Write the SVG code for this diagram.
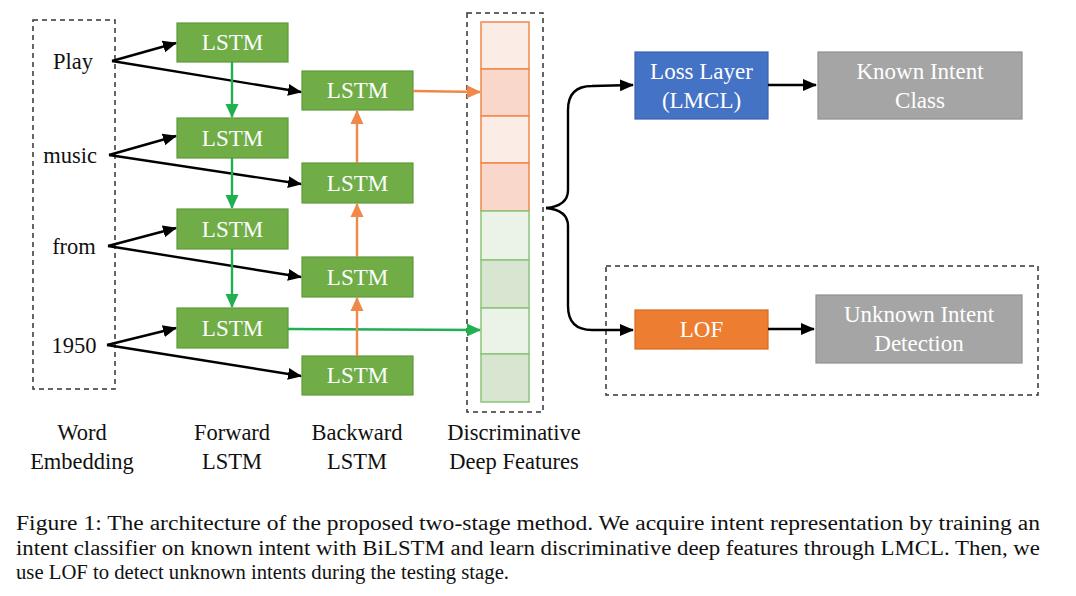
<svg xmlns="http://www.w3.org/2000/svg" width="1076" height="596" viewBox="0 0 1076 596">
<style>
text{font-family:"Liberation Serif","Times New Roman",serif;}
.lbl{font-size:22.5px;fill:#111;text-anchor:middle;}
.wt{font-size:23px;fill:#fff;text-anchor:middle;}
.lstm{fill:#70AD47;stroke:#5E9A3A;stroke-width:1.2;}
.dash{fill:none;stroke:#333;stroke-width:1.5;stroke-dasharray:5,4;}
.blk{fill:none;stroke:#000;stroke-width:2.4;}
.grn{fill:none;stroke:#21B050;stroke-width:2.4;}
.org{fill:none;stroke:#F0884A;stroke-width:2.4;}
.oc1{fill:#FCECE6;stroke:#F0884A;stroke-width:1.5;}
.oc2{fill:#F9D7CB;stroke:#F0884A;stroke-width:1.5;}
.gc1{fill:#EBF2E8;stroke:#8DC37A;stroke-width:1.5;}
.gc2{fill:#D7E5D1;stroke:#8DC37A;stroke-width:1.5;}
.cap{font-size:20.5px;fill:#111;}
</style>
<defs>
<marker id="ag" markerWidth="14" markerHeight="14" refX="13" refY="7" orient="auto" markerUnits="userSpaceOnUse" viewBox="0 0 14 14"><path d="M0,0.5 L14,7 L0,13.5 z" fill="#21B050"/></marker>
<marker id="ao" markerWidth="14" markerHeight="14" refX="13" refY="7" orient="auto" markerUnits="userSpaceOnUse" viewBox="0 0 14 14"><path d="M0,0.5 L14,7 L0,13.5 z" fill="#F0884A"/></marker>
<marker id="ab2" markerWidth="14" markerHeight="14" refX="13" refY="7" orient="auto" markerUnits="userSpaceOnUse" viewBox="0 0 14 14"><path d="M0,1 L14,7 L0,13 z" fill="#000"/></marker>
</defs>

<g id="word-embedding">
<rect class="dash" x="33" y="20" width="82" height="369"/>
<text class="lbl" x="73" y="69">Play</text>
<text class="lbl" x="70" y="163">music</text>
<text class="lbl" x="74" y="254">from</text>
<text class="lbl" x="74" y="353">1950</text>
</g>

<g id="forward-lstm">
<rect class="lstm" x="177" y="23" width="111" height="39"/><text class="wt" x="232.5" y="50">LSTM</text>
<rect class="lstm" x="177" y="118" width="111" height="40"/><text class="wt" x="232.5" y="146">LSTM</text>
<rect class="lstm" x="177" y="209" width="111" height="40"/><text class="wt" x="232.5" y="237">LSTM</text>
<rect class="lstm" x="177" y="308" width="111" height="40"/><text class="wt" x="232.5" y="336">LSTM</text>
</g>

<g id="backward-lstm">
<rect class="lstm" x="302" y="71" width="111" height="39"/><text class="wt" x="357.5" y="98">LSTM</text>
<rect class="lstm" x="302" y="163" width="111" height="40"/><text class="wt" x="357.5" y="191">LSTM</text>
<rect class="lstm" x="302" y="257" width="111" height="40"/><text class="wt" x="357.5" y="285">LSTM</text>
<rect class="lstm" x="302" y="356" width="111" height="39"/><text class="wt" x="357.5" y="383">LSTM</text>
</g>

<g id="features">
<rect class="dash" x="467" y="13" width="76" height="399"/>
<rect class="oc1" x="481" y="22" width="48" height="47"/>
<rect class="oc2" x="481" y="69" width="48" height="47"/>
<rect class="oc1" x="481" y="116" width="48" height="47"/>
<rect class="oc2" x="481" y="163" width="48" height="48"/>
<rect class="gc1" x="481" y="211" width="48" height="49"/>
<rect class="gc2" x="481" y="260" width="48" height="48"/>
<rect class="gc1" x="481" y="308" width="48" height="46"/>
<rect class="gc2" x="481" y="354" width="48" height="48"/>
</g>

<g id="loss-layer">
<rect x="635" y="52" width="133" height="67" fill="#4472C4" stroke="#3A63AE" stroke-width="1.2"/>
<text class="wt" x="701.5" y="79">Loss Layer</text>
<text class="wt" x="701.5" y="108">(LMCL)</text>
</g>
<g id="known-intent">
<rect x="818" y="52" width="204" height="67" fill="#A5A5A5" stroke="#8F8F8F" stroke-width="1.2"/>
<text class="wt" x="920" y="79">Known Intent</text>
<text class="wt" x="920" y="108">Class</text>
</g>
<g id="lof-group">
<rect class="dash" x="606" y="266" width="432" height="129"/>
</g>
<g id="lof">
<rect x="635" y="310" width="133" height="39" fill="#ED7D31" stroke="#D66B22" stroke-width="1.2"/>
<text class="wt" x="701.5" y="337">LOF</text>
</g>
<g id="unknown-intent">
<rect x="816" y="295" width="206" height="68" fill="#A5A5A5" stroke="#8F8F8F" stroke-width="1.2"/>
<text class="wt" x="919" y="322">Unknown Intent</text>
<text class="wt" x="919" y="351">Detection</text>
</g>

<g id="connectors">
<path class="blk" d="M112,61 L176,43" marker-end="url(#ab2)"/>
<path class="blk" d="M112,61 L301,92" marker-end="url(#ab2)"/>
<path class="blk" d="M109,155 L176,136" marker-end="url(#ab2)"/>
<path class="blk" d="M109,155 L301,184" marker-end="url(#ab2)"/>
<path class="blk" d="M108,246 L176,228" marker-end="url(#ab2)"/>
<path class="blk" d="M108,246 L301,277" marker-end="url(#ab2)"/>
<path class="blk" d="M107,345 L176,328" marker-end="url(#ab2)"/>
<path class="blk" d="M107,345 L301,376" marker-end="url(#ab2)"/>
<path class="grn" d="M232,62 L232,117" marker-end="url(#ag)"/>
<path class="grn" d="M232,158 L232,208" marker-end="url(#ag)"/>
<path class="grn" d="M232,249 L232,307" marker-end="url(#ag)"/>
<path class="grn" d="M288,329 L480,330" marker-end="url(#ag)"/>
<path class="org" d="M357,356 L357,298" marker-end="url(#ao)"/>
<path class="org" d="M357,257 L357,204" marker-end="url(#ao)"/>
<path class="org" d="M357,163 L357,111" marker-end="url(#ao)"/>
<path class="org" d="M413,91 L480,92" marker-end="url(#ao)"/>
<path class="blk" d="M546,208 Q568,206 568,190 L568,110 Q568,86 592,86 L633,85" marker-end="url(#ab2)"/>
<path class="blk" d="M546,208 Q568,210 568,226 L568,306 Q568,330 592,330 L633,330" marker-end="url(#ab2)"/>
<path class="blk" d="M768,85 L816,85" marker-end="url(#ab2)"/>
<path class="blk" d="M768,329 L814,329" marker-end="url(#ab2)"/>
</g>

<g id="column-labels">
<text class="lbl" x="82" y="440">Word</text>
<text class="lbl" x="82" y="469">Embedding</text>
<text class="lbl" x="232" y="440">Forward</text>
<text class="lbl" x="232" y="469">LSTM</text>
<text class="lbl" x="357" y="440">Backward</text>
<text class="lbl" x="357" y="469">LSTM</text>
<text class="lbl" x="514" y="440">Discriminative</text>
<text class="lbl" x="514" y="469">Deep Features</text>
</g>

<g id="caption">
<text class="cap" x="16" y="530" textLength="1024" lengthAdjust="spacingAndGlyphs">Figure 1: The architecture of the proposed two-stage method.  We acquire intent representation by training an</text>
<text class="cap" x="16" y="555" textLength="1024" lengthAdjust="spacingAndGlyphs">intent classifier on known intent with BiLSTM and learn discriminative deep features through LMCL. Then, we</text>
<text class="cap" x="16" y="579" textLength="493" lengthAdjust="spacingAndGlyphs">use LOF to detect unknown intents during the testing stage.</text>
</g>
</svg>
